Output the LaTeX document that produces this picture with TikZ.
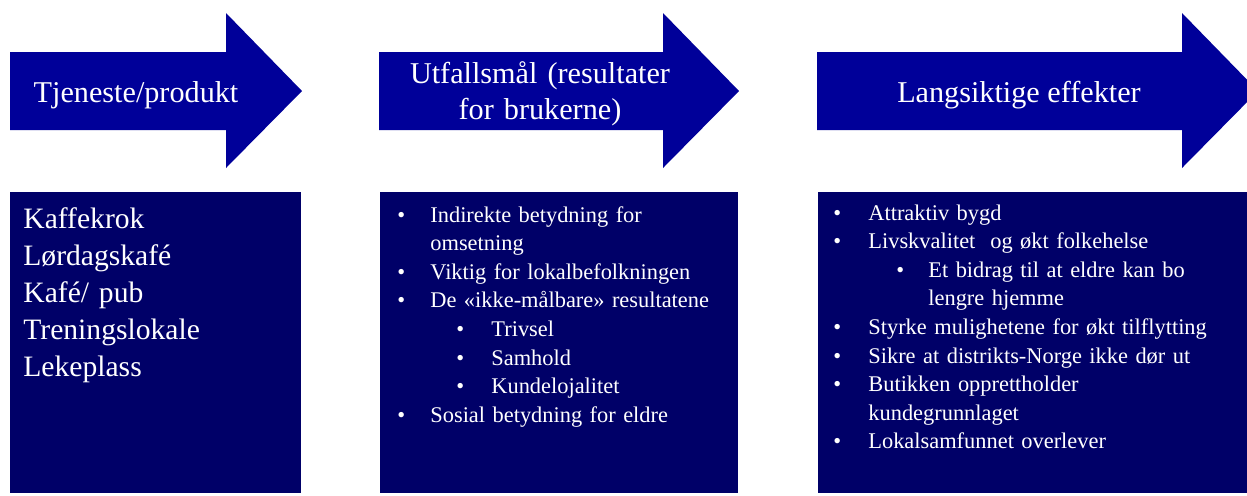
\documentclass[tikz,border=0pt]{standalone}
\usepackage{fontspec}
\setmainfont{Liberation Serif}
\definecolor{arrowblue}{RGB}{0,0,153}
\definecolor{boxblue}{RGB}{0,0,104}
\newcommand{\itmark}[1]{\makebox[#1][l]{\textbullet}}

\begin{document}
\begin{tikzpicture}[x=0.5pt,y=-0.5pt,
 head/.style={text=white,font=\fontsize{15.1}{18}\selectfont,anchor=base,inner sep=0pt},
 box/.style={fill=boxblue,anchor=north west,inner sep=0pt,outer sep=0pt,minimum height=150.5pt},
 lst/.style={text=white,anchor=base west,inner sep=0pt,align=left,
             font=\fontsize{11.2}{14.3}\selectfont}]
 \useasboundingbox (0,0) rectangle (1247,495);
 \clip (0,0) rectangle (1247,495);
 % arrows
 \foreach \xl/\xb in {10/226,379/663,817/1182}
  \fill[arrowblue] (\xl,52) -- (\xb,52) -- (\xb,13) -- (\xb+76,91) -- (\xb,168)
   -- (\xb,130) -- (\xl,130) -- cycle;
 \node[head] (tje) at (136,102) {Tjeneste/produkt};
 \node[head,text width=170pt,align=center] (utf) at (540,83) {Utfallsmål (resultater\\for brukerne)};
 \node[head] (lan) at (1019,102) {Langsiktige effekter};
 % boxes
 \node[box,minimum width=145.5pt] (b1) at (10,192) {};
 \node[box,minimum width=179pt] (b2) at (380,192) {};
 \node[box,minimum width=221pt] (b3) at (818,192) {};
 \node[lst,font=\fontsize{14.8}{18.5}\selectfont,text width=140pt] (l1) at (23,228)
  {Kaffekrok\\Lørdagskafé\\Kafé/ pub\\Treningslokale\\Lekeplass};
 \node[lst,text width=170pt] (l2) at (397,222) {%
  \itmark{16.5pt}Indirekte betydning for\\
  \hspace*{16.5pt}omsetning\\
  \itmark{16.5pt}Viktig for lokalbefolkningen\\
  \itmark{16.5pt}De «ikke-målbare» resultatene\\
  \hspace*{29.5pt}\itmark{17.5pt}Trivsel\\
  \hspace*{29.5pt}\itmark{17.5pt}Samhold\\
  \hspace*{29.5pt}\itmark{17.5pt}Kundelojalitet\\
  \itmark{16.5pt}Sosial betydning for eldre};
 \node[lst,text width=205pt] (l3) at (833,220) {%
  \itmark{17.5pt}Attraktiv bygd\\
  \itmark{17.5pt}Livskvalitet\ \ og økt folkehelse\\
  \hspace*{31.5pt}\itmark{16pt}Et bidrag til at eldre kan bo\\
  \hspace*{47.5pt}lengre hjemme\\
  \itmark{17.5pt}Styrke mulighetene for økt tilflytting\\
  \itmark{17.5pt}Sikre at distrikts-Norge ikke dør ut\\
  \itmark{17.5pt}Butikken opprettholder\\
  \hspace*{17.5pt}kundegrunnlaget\\
  \itmark{17.5pt}Lokalsamfunnet overlever};
\end{tikzpicture}
\end{document}
